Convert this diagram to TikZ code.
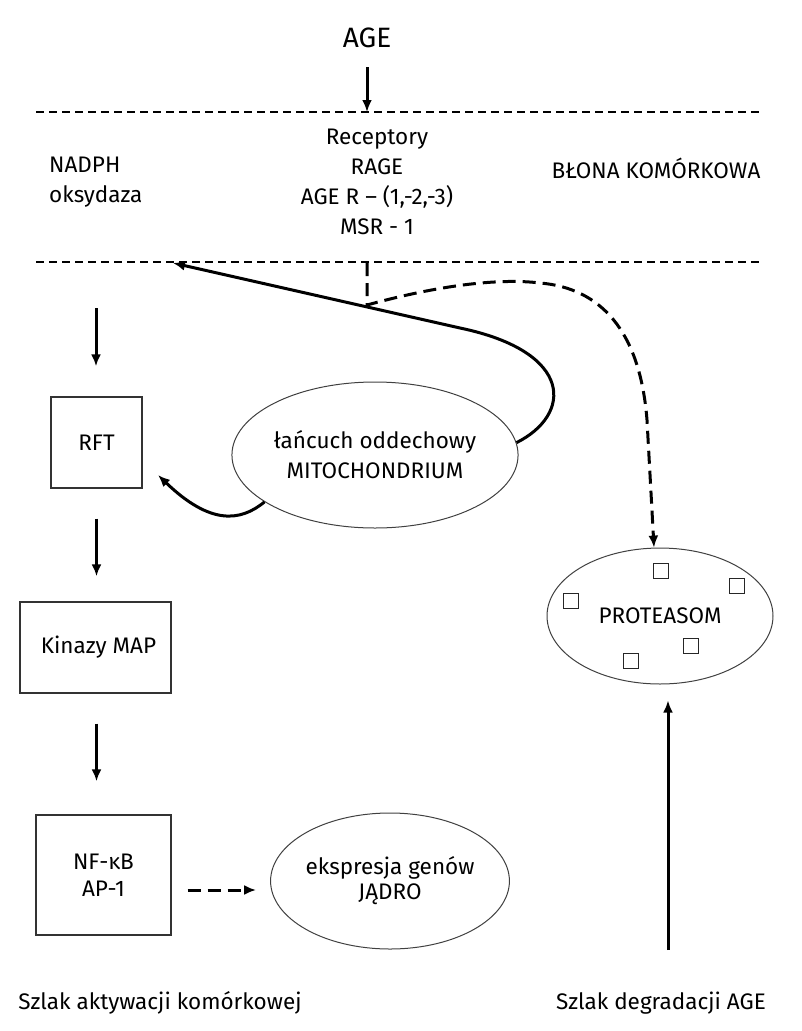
\documentclass[tikz,border=0pt]{standalone}
\usepackage{fontspec}
\setmainfont{Fira Sans}
\usetikzlibrary{
    arrows.meta,
    shapes.geometric
}

\begin{document}
\begin{tikzpicture}[
    x=1pt, y=-1pt,
    font=\fontsize{22.5}{30}\selectfont,
    box/.style={
        rectangle,
        draw=black!80,
        line width=1.4pt,
        align=center,
        inner sep=0pt
    },
    cellpart/.style={
        ellipse,
        draw=black!75,
        line width=1pt,
        align=center,
        inner sep=0pt
    },
    subunit/.style={
        rectangle,
        draw=black!85,
        line width=1.3pt,
        minimum size=15pt,
        inner sep=0pt
    },
    arrow/.style={
        -{Latex[length=12pt,width=10pt]},
        line width=3pt
    },
    dasharrow/.style={
        arrow,
        dash pattern=on 13pt off 7pt
    },
    membrane/.style={
        line width=1.1pt,
        dash pattern=on 8pt off 5pt
    },
    txt/.style={
        align=center,
        inner sep=0pt
    }
]
\useasboundingbox (0,0) rectangle (801,1031);

% =========================================================
% Cell membrane and receptors
% =========================================================
\node[txt] (age) at (367,38) {\fontsize{28}{30}\selectfont AGE};

\coordinate (memTopL) at (36,112);
\coordinate (memTopR) at (759,112);
\coordinate (memBotL) at (36,262);
\coordinate (memBotR) at (759,262);

\draw[membrane] (memTopL) -- (memTopR);
\draw[membrane] (memBotL) -- (memBotR);

\node[txt] (receptors) at (377,182)
{Receptory\\RAGE\\AGE R -- (1,-2,-3)\\MSR - 1};

\node[txt, align=left, anchor=west] (nadph) at (49,182)
{NADPH\\oksydaza};

\node[txt] (membrane) at (656,168) {BŁONA KOMÓRKOWA};

% =========================================================
% Activation pathway (left)
% =========================================================
\node[box, minimum width=91pt, minimum height=91pt] (rft) at (96.5,442.5) {RFT};

\node[box, minimum width=151pt, minimum height=91pt] (kinazy) at (95.5,647.5)
{\hspace*{6pt}Kinazy MAP};

\node[box, minimum width=135pt, minimum height=120pt,
      font=\fontsize{22.5}{27}\selectfont] (nfkb) at (103.5,875)
{NF-κB\\AP-1};

\node[cellpart, minimum width=229pt, minimum height=136pt,
      font=\fontsize{22.5}{25}\selectfont] (nucleus) at (390,881)
{ekspresja genów\\JĄDRO};

\node[cellpart, minimum width=286pt, minimum height=146pt] (mito) at (375,455)
{łańcuch oddechowy\\MITOCHONDRIUM};

% =========================================================
% Degradation pathway (right)
% =========================================================
\node[cellpart, minimum width=226pt, minimum height=136pt] (prot) at (660,616)
{PROTEASOM};

\foreach \i/\px/\py in {1/661/571, 2/737/586, 3/571/601, 4/691/646, 5/631/661}
    \node[subunit] (sub\i) at (\px,\py) {};

% =========================================================
% Labels of the two pathways
% =========================================================
\node[txt] (actpath) at (160,1003) {Szlak aktywacji komórkowej};
\node[txt] (degpath) at (661,1003) {Szlak degradacji AGE};

% =========================================================
% Arrows
% =========================================================
\coordinate (ageOut) at (367,67);
\coordinate (rageIn) at (367,112);
\coordinate (rageOut) at (367,263);
\coordinate (split) at (367,305);
\coordinate (nadphIn) at (173,263);
\coordinate (rftIn) at (158,475);
\coordinate (rosStart) at (96,308);
\coordinate (degStart) at (668,950);

\draw[arrow] (ageOut) -- (rageIn);

\draw[dasharrow] (rageOut) -- (split)
    .. controls (440,285) and (500,278) .. (540,283)
    .. controls (600,288) and (640,330) .. (647,420) -- (prot.95);

\draw[arrow] (mito.5) .. controls (572,415) and (575,352) .. (460,328) -- (nadphIn);
\draw[arrow] (mito.203) .. controls (240,522) and (210,525) .. (rftIn);

\draw[arrow, shorten >=30pt] (rosStart) -- (rosStart |- rft.north);
\draw[arrow, shorten <=30pt, shorten >=25pt] (rft.south) -- (rft.south |- kinazy.north);
\draw[arrow, shorten <=30pt, shorten >=33pt] (rft.south |- kinazy.south) -- (rft.south |- nfkb.north);

\draw[dasharrow, shorten <=16pt, shorten >=14pt] ([yshift=-15pt]nfkb.east) -- ([yshift=-15pt]nfkb.east -| nucleus.west);

\draw[arrow, shorten >=16pt] (degStart) -- (degStart |- prot.south);

\end{tikzpicture}
\end{document}
